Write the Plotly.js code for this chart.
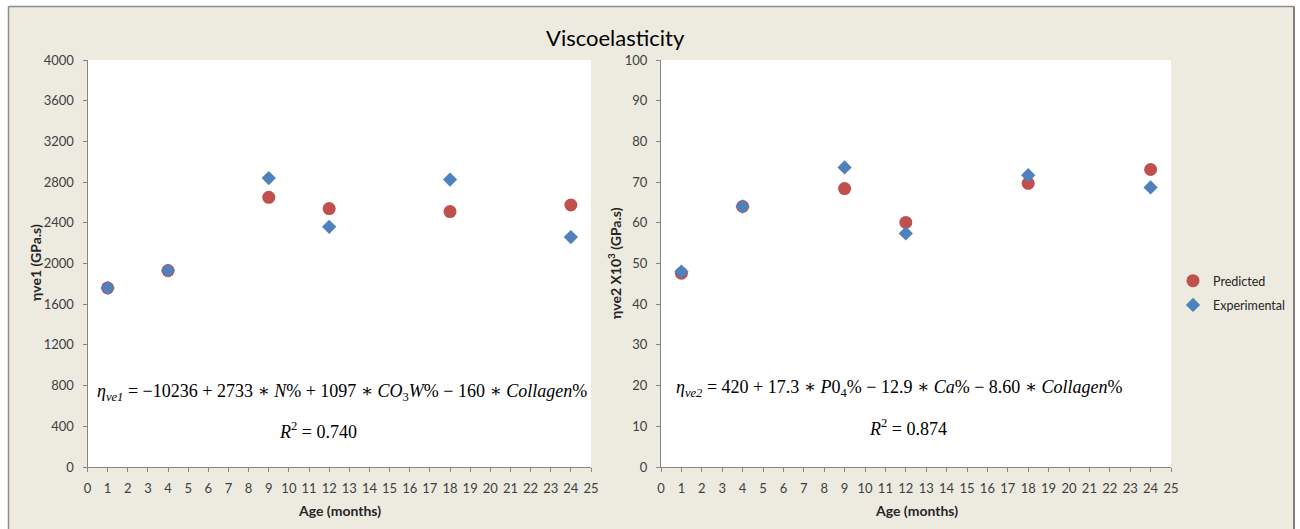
<!DOCTYPE html>
<html>
<head>
<meta charset="utf-8">
<script src="https://cdn.plot.ly/plotly-3.0.1.min.js"></script>
<style>html,body{margin:0;padding:0;background:#fff;}#chart{width:1300px;height:529px;}</style>
</head>
<body>
<div id="chart"></div>
<script>
// ---- data ----
const ages = [1, 4, 9, 12, 18, 24];
const predicted1 = [1760, 1930, 2650, 2540, 2510, 2575];
const experimental1 = [1760, 1930, 2840, 2360, 2825, 2260];
const predicted2 = [47.6, 64.0, 68.4, 60.1, 69.7, 73.1];
const experimental2 = [48.0, 64.0, 73.6, 57.4, 71.7, 68.7];
const seriesNames = ["Predicted", "Experimental"];
const chartTitle = "Viscoelasticity";
const xTitle = "Age (months)";
const yTitle1 = "ηve1 (GPa.s)";
const yTitle2 = "ηve2 X10<sup>3</sup> (GPa.s)";
const eq1 = "<i>η</i><sub><i>ve1</i></sub> = −10236 + 2733 ∗ <i>N</i>% + 1097 ∗ <i>CO</i><sub>3</sub><i>W</i>% − 160 ∗ <i>Collagen</i>%";
const r2_1 = "<i>R</i><sup>2</sup> = 0.740";
const eq2 = "<i>η</i><sub><i>ve2</i></sub> = 420 + 17.3 ∗ <i>P</i>0<sub>4</sub>% − 12.9 ∗ <i>Ca</i>% − 8.60 ∗ <i>Collagen</i>%";
const r2_2 = "<i>R</i><sup>2</sup> = 0.874";

const W = 1300, H = 529;
const px = v => v / W;
const py = v => 1 - v / H;

const red = '#C0504D', blue = '#4F81BD';
const predMarker = {symbol: 'circle', size: 13, color: red};
const expMarker = {symbol: 'diamond', size: 11, color: blue};

const traces = [
  {x: ages, y: predicted1, type: 'scatter', mode: 'markers', name: seriesNames[0], marker: predMarker, xaxis: 'x', yaxis: 'y', showlegend: false},
  {x: ages, y: experimental1, type: 'scatter', mode: 'markers', name: seriesNames[1], marker: expMarker, xaxis: 'x', yaxis: 'y', showlegend: false},
  {x: ages, y: predicted2, type: 'scatter', mode: 'markers', name: seriesNames[0], marker: predMarker, xaxis: 'x2', yaxis: 'y2', legendgroup: 'p'},
  {x: ages, y: experimental2, type: 'scatter', mode: 'markers', name: seriesNames[1], marker: expMarker, xaxis: 'x2', yaxis: 'y2', legendgroup: 'e'}
];

const tickFont = {family: 'Lato, "Open Sans", sans-serif', size: 13, color: '#404040'};
const axisCommon = {
  showgrid: false, zeroline: false, showline: true, linecolor: '#868686', linewidth: 1,
  ticks: 'outside', ticklen: 4, tickcolor: '#868686', tickfont: tickFont, fixedrange: true
};
const ydom = [py(467), py(60)];

const titleFont = {family: 'Lato, "Open Sans", sans-serif', size: 14, color: '#262626', weight: 'bold'};
const eqFont = {family: '"Liberation Serif", "DejaVu Serif", serif', size: 18, color: '#000'};

const layout = {
  width: W, height: H,
  margin: {l: 0, r: 0, t: 0, b: 0},
  paper_bgcolor: '#EDEAE0',
  plot_bgcolor: '#FFFFFF',
  showlegend: true,
  legend: {x: px(1173), y: py(266), xanchor: 'left', yanchor: 'top', bgcolor: 'rgba(0,0,0,0)',
           font: {family: 'Lato, "Open Sans", sans-serif', size: 12.5, color: '#262626'},
           itemwidth: 30, tracegroupgap: 5},
  xaxis: Object.assign({}, axisCommon, {domain: [px(87.5), px(591)], range: [0, 25], dtick: 1, tick0: 0, anchor: 'y', ticklabelstandoff: 5}),
  yaxis: Object.assign({}, axisCommon, {domain: ydom, range: [0, 4000], dtick: 400, tick0: 0, anchor: 'x', ticklabelstandoff: 6}),
  xaxis2: Object.assign({}, axisCommon, {domain: [px(661), px(1171)], range: [0, 25], dtick: 1, tick0: 0, anchor: 'y2', ticklabelstandoff: 5}),
  yaxis2: Object.assign({}, axisCommon, {domain: ydom, range: [0, 100], dtick: 10, tick0: 0, anchor: 'x2', ticklabelstandoff: 6}),
  annotations: [
    {text: chartTitle, xref: 'paper', yref: 'paper', x: px(615), y: py(37), showarrow: false, xanchor: 'center', yanchor: 'middle',
     font: {family: 'Lato, "Open Sans", sans-serif', size: 22, color: '#000'}},
    {text: xTitle, xref: 'paper', yref: 'paper', x: px(339), y: py(510), showarrow: false, xanchor: 'center', yanchor: 'middle', font: titleFont},
    {text: xTitle, xref: 'paper', yref: 'paper', x: px(916), y: py(510), showarrow: false, xanchor: 'center', yanchor: 'middle', font: titleFont},
    {text: yTitle1, xref: 'paper', yref: 'paper', x: px(35), y: py(263), showarrow: false, textangle: -90, xanchor: 'center', yanchor: 'middle', font: titleFont},
    {text: yTitle2, xref: 'paper', yref: 'paper', x: px(614), y: py(263), showarrow: false, textangle: -90, xanchor: 'center', yanchor: 'middle', font: titleFont},
    {text: eq1, xref: 'paper', yref: 'paper', x: px(342), y: py(392), showarrow: false, xanchor: 'center', yanchor: 'middle', font: eqFont},
    {text: r2_1, xref: 'paper', yref: 'paper', x: px(318), y: py(430), showarrow: false, xanchor: 'center', yanchor: 'middle', font: eqFont},
    {text: eq2, xref: 'paper', yref: 'paper', x: px(899), y: py(388), showarrow: false, xanchor: 'center', yanchor: 'middle', font: eqFont},
    {text: r2_2, xref: 'paper', yref: 'paper', x: px(908), y: py(427), showarrow: false, xanchor: 'center', yanchor: 'middle', font: eqFont}
  ],
  shapes: [
    {type: 'rect', xref: 'paper', yref: 'paper', x0: 0, x1: 1, y0: py(6.5), y1: 1, fillcolor: '#FFFFFF', line: {width: 0}, layer: 'above'},
    {type: 'rect', xref: 'paper', yref: 'paper', x0: 0, x1: px(8.5), y0: 0, y1: 1, fillcolor: '#FFFFFF', line: {width: 0}, layer: 'above'},
    {type: 'rect', xref: 'paper', yref: 'paper', x0: px(1294), x1: 1, y0: 0, y1: 1, fillcolor: '#FFFFFF', line: {width: 0}, layer: 'above'},
    {type: 'line', xref: 'paper', yref: 'paper', x0: px(8.5), x1: px(1294), y0: py(6.5), y1: py(6.5), line: {color: '#8C8C8C', width: 1.5}, layer: 'above'},
    {type: 'line', xref: 'paper', yref: 'paper', x0: px(8.5), x1: px(8.5), y0: 0, y1: py(6.5), line: {color: '#8C8C8C', width: 1.5}, layer: 'above'},
    {type: 'line', xref: 'paper', yref: 'paper', x0: px(1294), x1: px(1294), y0: 0, y1: py(6.5), line: {color: '#7F7F7F', width: 2}, layer: 'above'}
  ]
};

Plotly.newPlot('chart', traces, layout, {displayModeBar: false, staticPlot: true});
</script>
</body>
</html>
